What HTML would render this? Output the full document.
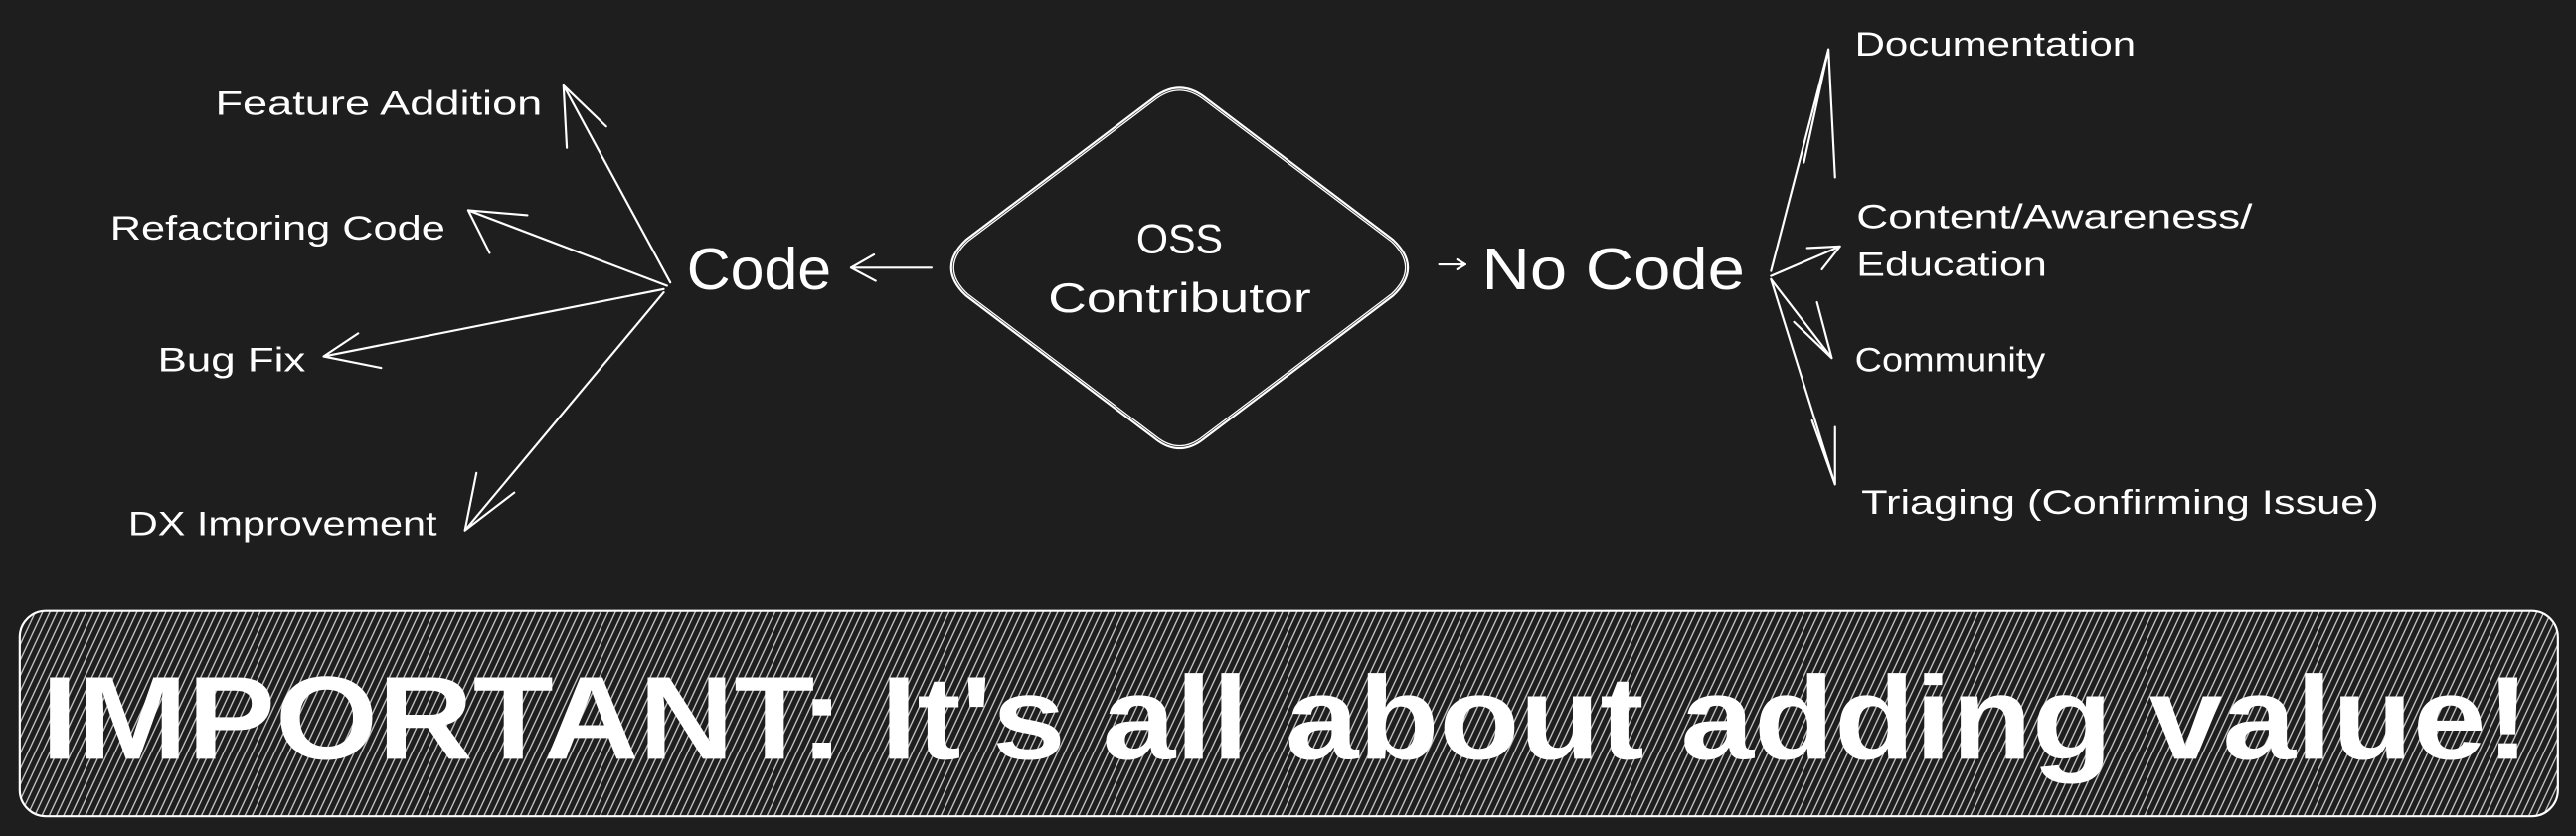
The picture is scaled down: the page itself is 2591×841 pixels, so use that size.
<!DOCTYPE html>
<html><head><meta charset="utf-8"><style>
html,body{margin:0;padding:0;background:#1e1e1e;}
svg{display:block;}
text{font-family:"Liberation Sans",sans-serif;fill:#fff;}
</style></head><body>
<svg width="2591" height="841" viewBox="0 0 1568 509" preserveAspectRatio="none" xmlns="http://www.w3.org/2000/svg">
<defs>
<pattern id="h" width="4" height="10" patternUnits="userSpaceOnUse" patternTransform="rotate(25)">
<line x1="1" y1="0" x2="1" y2="10" stroke="#c8c8c8" stroke-width="0.8"/>
</pattern>
<clipPath id="c"><rect x="12" y="372" width="1545" height="125" rx="16"/></clipPath>
</defs>
<rect width="1568" height="509" fill="#1e1e1e"/>
<g stroke="#fff" fill="none" stroke-width="1.3" stroke-linecap="round">
<path d="M703,59 Q718,48 733,59 L848,146 Q866,163 848,180 L733,267 Q718,279 703,267 L588,180 Q570,163 588,146 Z"/>
<path d="M704,60 Q718,50 732,60 L847,147 Q864,163 847,179 L732,266 Q718,277 704,266 L589,179 Q572,163 589,147 Z" stroke-width="0.8"/>
<path d="M567,163 L518,163 M518,163 L532,155 M518,163 L533,171"/>
<path d="M876,161 L892,161 M892,161 L887,158 M892,161 L887,164"/>
<path d="M408,172 L343,52 M343,52 L345,90 M343,52 L369,77"/>
<path d="M406,174 L285,128 M285,128 L298,154 M285,128 L321,131"/>
<path d="M404,176 L197,217 M197,217 L218,203 M197,217 L232,224"/>
<path d="M404,178 L283,323 M283,323 L290,288 M283,323 L313,300"/>
<path d="M1078,165 L1113,30 M1113,30 L1098,99 M1113,30 L1117,108"/>
<path d="M1078,168 L1120,150 M1120,150 L1100,151 M1120,150 L1109,164"/>
<path d="M1078,170 L1115,218 M1115,218 L1106,184 M1115,218 L1092,196"/>
<path d="M1078,170 L1117,295 M1117,295 L1103,256 M1117,295 L1117,260"/>
</g>
<g font-size="21">
<text x="131" y="70" textLength="199" lengthAdjust="spacingAndGlyphs">Feature Addition</text>
<text x="67" y="146" textLength="204" lengthAdjust="spacingAndGlyphs">Refactoring Code</text>
<text x="96" y="226" textLength="90" lengthAdjust="spacingAndGlyphs">Bug Fix</text>
<text x="78" y="326" textLength="188" lengthAdjust="spacingAndGlyphs">DX Improvement</text>
<text x="1129" y="34" textLength="171" lengthAdjust="spacingAndGlyphs">Documentation</text>
<text x="1130" y="139" textLength="241" lengthAdjust="spacingAndGlyphs">Content/Awareness/</text>
<text x="1130" y="168" textLength="116" lengthAdjust="spacingAndGlyphs">Education</text>
<text x="1129" y="226" textLength="116" lengthAdjust="spacingAndGlyphs">Community</text>
<text x="1133" y="313" textLength="315" lengthAdjust="spacingAndGlyphs">Triaging (Confirming Issue)</text>
</g>
<text x="418" y="176" font-size="36" textLength="88" lengthAdjust="spacingAndGlyphs">Code</text>
<text x="902" y="176" font-size="36" textLength="160" lengthAdjust="spacingAndGlyphs">No Code</text>
<text x="718" y="154" font-size="25" text-anchor="middle">OSS</text>
<text x="718" y="190" font-size="25" text-anchor="middle" textLength="160" lengthAdjust="spacingAndGlyphs">Contributor</text>
<rect x="12" y="372" width="1545" height="125" rx="16" fill="#1e1e1e"/>
<rect x="0" y="360" width="1568" height="150" fill="url(#h)" clip-path="url(#c)"/>
<rect x="12" y="372" width="1545" height="125" rx="16" fill="none" stroke="#fff" stroke-width="1.3"/>
<text x="25" y="462" font-size="72" font-weight="bold" textLength="1515" lengthAdjust="spacingAndGlyphs">IMPORTANT: It's all about adding value!</text>
</svg>
</body></html>
